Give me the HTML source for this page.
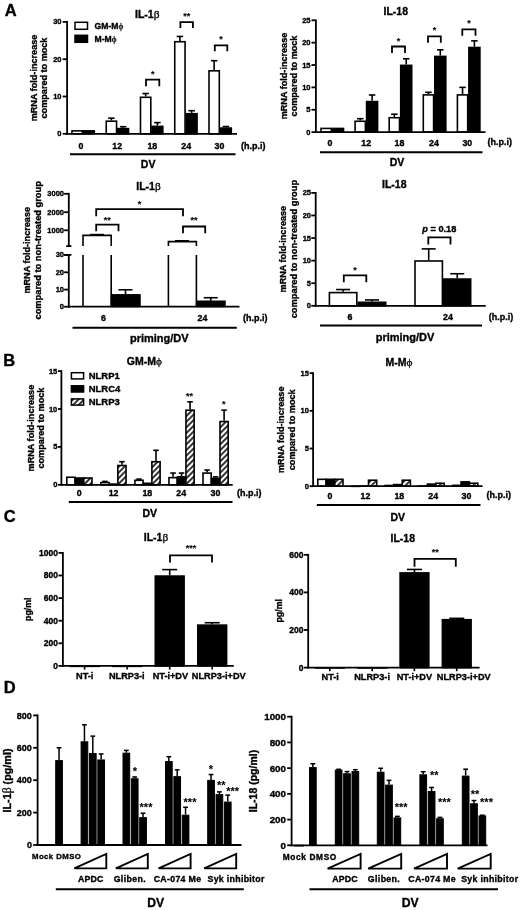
<!DOCTYPE html>
<html><head><meta charset="utf-8"><title>Figure</title>
<style>
html,body{margin:0;padding:0;background:#fff;}
svg{display:block;font-family:'Liberation Sans', sans-serif;fill:#000;}
text{stroke:#000;stroke-width:0.35px;stroke-linejoin:round;}
.st{stroke-width:0.1px;}
.g{font-family:'Liberation Serif',serif;font-weight:normal;stroke-width:0.3px;font-size:108%;}
</style></head>
<body>
<svg width="520" height="910" viewBox="0 0 520 910">
<defs>
<pattern id="hatch" patternUnits="userSpaceOnUse" width="4" height="4" patternTransform="rotate(-45)">
<rect width="4" height="4" fill="#fff"/>
<line x1="0" y1="2" x2="4" y2="2" stroke="#000" stroke-width="1.6"/>
</pattern>
</defs>
<rect x="0" y="0" width="520" height="910" fill="#fff"/>
<text x="10.80" y="16.28" font-size="16.5" font-weight="bold" text-anchor="middle">A</text>
<text x="147.20" y="18.11" font-size="10.5" font-weight="bold" text-anchor="middle">IL-1<tspan class="g">β</tspan></text>
<text x="33.70" y="81.13" font-size="9.1" font-weight="bold" text-anchor="middle" transform="rotate(-90 33.70 78.00)">mRNA fold-increase</text>
<text x="44.20" y="81.13" font-size="9.1" font-weight="bold" text-anchor="middle" transform="rotate(-90 44.20 78.00)">compared to mock</text>
<rect x="72.00" y="130.87" width="10.30" height="2.93" fill="#fff" stroke="#000" stroke-width="1.6"/>
<rect x="83.50" y="130.87" width="10.80" height="2.93" fill="#000" stroke="#000" stroke-width="1.6"/>
<text x="81.00" y="148.63" font-size="8.8" font-weight="bold" text-anchor="middle">0</text>
<line x1="111.40" y1="120.37" x2="111.40" y2="118.13" stroke="#000" stroke-width="1.6" stroke-linecap="butt"/>
<line x1="108.15" y1="118.13" x2="114.65" y2="118.13" stroke="#000" stroke-width="1.6" stroke-linecap="butt"/>
<rect x="106.25" y="121.17" width="10.30" height="12.63" fill="#fff" stroke="#000" stroke-width="1.6"/>
<line x1="123.15" y1="127.83" x2="123.15" y2="126.71" stroke="#000" stroke-width="1.6" stroke-linecap="butt"/>
<line x1="119.90" y1="126.71" x2="126.40" y2="126.71" stroke="#000" stroke-width="1.6" stroke-linecap="butt"/>
<rect x="117.75" y="128.63" width="10.80" height="5.17" fill="#000" stroke="#000" stroke-width="1.6"/>
<text x="117.20" y="148.63" font-size="8.8" font-weight="bold" text-anchor="middle">12</text>
<line x1="145.65" y1="96.50" x2="145.65" y2="93.52" stroke="#000" stroke-width="1.6" stroke-linecap="butt"/>
<line x1="142.40" y1="93.52" x2="148.90" y2="93.52" stroke="#000" stroke-width="1.6" stroke-linecap="butt"/>
<rect x="140.50" y="97.30" width="10.30" height="36.50" fill="#fff" stroke="#000" stroke-width="1.6"/>
<line x1="157.40" y1="125.59" x2="157.40" y2="122.61" stroke="#000" stroke-width="1.6" stroke-linecap="butt"/>
<line x1="154.15" y1="122.61" x2="160.65" y2="122.61" stroke="#000" stroke-width="1.6" stroke-linecap="butt"/>
<rect x="152.00" y="126.39" width="10.80" height="7.41" fill="#000" stroke="#000" stroke-width="1.6"/>
<text x="152.30" y="148.63" font-size="8.8" font-weight="bold" text-anchor="middle">18</text>
<line x1="179.90" y1="40.92" x2="179.90" y2="36.45" stroke="#000" stroke-width="1.6" stroke-linecap="butt"/>
<line x1="176.65" y1="36.45" x2="183.15" y2="36.45" stroke="#000" stroke-width="1.6" stroke-linecap="butt"/>
<rect x="174.75" y="41.72" width="10.30" height="92.08" fill="#fff" stroke="#000" stroke-width="1.6"/>
<line x1="191.65" y1="112.91" x2="191.65" y2="110.67" stroke="#000" stroke-width="1.6" stroke-linecap="butt"/>
<line x1="188.40" y1="110.67" x2="194.90" y2="110.67" stroke="#000" stroke-width="1.6" stroke-linecap="butt"/>
<rect x="186.25" y="113.71" width="10.80" height="20.09" fill="#000" stroke="#000" stroke-width="1.6"/>
<text x="186.20" y="148.63" font-size="8.8" font-weight="bold" text-anchor="middle">24</text>
<line x1="214.15" y1="70.02" x2="214.15" y2="60.69" stroke="#000" stroke-width="1.6" stroke-linecap="butt"/>
<line x1="210.90" y1="60.69" x2="217.40" y2="60.69" stroke="#000" stroke-width="1.6" stroke-linecap="butt"/>
<rect x="209.00" y="70.82" width="10.30" height="62.98" fill="#fff" stroke="#000" stroke-width="1.6"/>
<line x1="225.90" y1="127.27" x2="225.90" y2="126.53" stroke="#000" stroke-width="1.6" stroke-linecap="butt"/>
<line x1="222.65" y1="126.53" x2="229.15" y2="126.53" stroke="#000" stroke-width="1.6" stroke-linecap="butt"/>
<rect x="220.50" y="128.07" width="10.80" height="5.73" fill="#000" stroke="#000" stroke-width="1.6"/>
<text x="219.40" y="148.63" font-size="8.8" font-weight="bold" text-anchor="middle">30</text>
<line x1="67.10" y1="21.00" x2="67.10" y2="134.70" stroke="#000" stroke-width="1.8" stroke-linecap="butt"/>
<line x1="66.20" y1="133.80" x2="237.00" y2="133.80" stroke="#000" stroke-width="1.8" stroke-linecap="butt"/>
<line x1="62.70" y1="133.80" x2="67.10" y2="133.80" stroke="#000" stroke-width="1.8" stroke-linecap="butt"/>
<text x="61.50" y="136.38" font-size="7.5" font-weight="bold" text-anchor="end">0</text>
<line x1="62.70" y1="96.50" x2="67.10" y2="96.50" stroke="#000" stroke-width="1.8" stroke-linecap="butt"/>
<text x="61.50" y="99.08" font-size="7.5" font-weight="bold" text-anchor="end">10</text>
<line x1="62.70" y1="59.20" x2="67.10" y2="59.20" stroke="#000" stroke-width="1.8" stroke-linecap="butt"/>
<text x="61.50" y="61.78" font-size="7.5" font-weight="bold" text-anchor="end">20</text>
<line x1="62.70" y1="21.90" x2="67.10" y2="21.90" stroke="#000" stroke-width="1.8" stroke-linecap="butt"/>
<text x="61.50" y="24.48" font-size="7.5" font-weight="bold" text-anchor="end">30</text>
<text x="241.00" y="148.70" font-size="9.0" font-weight="bold" text-anchor="start">(h.p.i)</text>
<line x1="70.00" y1="154.30" x2="235.50" y2="154.30" stroke="#000" stroke-width="2.0" stroke-linecap="butt"/>
<text x="148.10" y="168.21" font-size="10.5" font-weight="bold" text-anchor="middle">DV</text>
<rect x="75.00" y="22.30" width="12.50" height="7.00" fill="#fff" stroke="#000" stroke-width="1.5"/>
<text x="94.50" y="28.96" font-size="8.6" font-weight="bold" text-anchor="start">GM-M<tspan class="g">ϕ</tspan></text>
<rect x="75.00" y="35.30" width="12.50" height="7.00" fill="#000" stroke="#000" stroke-width="1.5"/>
<text x="94.50" y="41.96" font-size="8.6" font-weight="bold" text-anchor="start">M-M<tspan class="g">ϕ</tspan></text>
<polyline points="146.00,86.30 146.00,79.70 159.30,79.70 159.30,86.30" fill="none" stroke="#000" stroke-width="1.8"/>
<text x="152.65" y="76.70" font-size="9" font-weight="bold" text-anchor="middle" class="st">*</text>
<polyline points="180.40,28.00 180.40,22.10 192.90,22.10 192.90,28.00" fill="none" stroke="#000" stroke-width="1.8"/>
<text x="186.65" y="18.70" font-size="9" font-weight="bold" text-anchor="middle" class="st">**</text>
<polyline points="214.80,51.30 214.80,45.40 227.30,45.40 227.30,51.30" fill="none" stroke="#000" stroke-width="1.8"/>
<text x="221.05" y="41.70" font-size="9" font-weight="bold" text-anchor="middle" class="st">*</text>
<text x="395.80" y="14.91" font-size="10.5" font-weight="bold" text-anchor="middle">IL-18</text>
<text x="283.40" y="79.13" font-size="9.1" font-weight="bold" text-anchor="middle" transform="rotate(-90 283.40 76.00)">mRNA fold-increase</text>
<text x="293.90" y="79.13" font-size="9.1" font-weight="bold" text-anchor="middle" transform="rotate(-90 293.90 76.00)">compared to mock</text>
<rect x="321.00" y="128.43" width="10.30" height="3.67" fill="#fff" stroke="#000" stroke-width="1.6"/>
<rect x="332.50" y="128.43" width="11.00" height="3.67" fill="#000" stroke="#000" stroke-width="1.6"/>
<text x="330.00" y="145.53" font-size="8.8" font-weight="bold" text-anchor="middle">0</text>
<line x1="360.25" y1="120.47" x2="360.25" y2="118.68" stroke="#000" stroke-width="1.6" stroke-linecap="butt"/>
<line x1="357.00" y1="118.68" x2="363.50" y2="118.68" stroke="#000" stroke-width="1.6" stroke-linecap="butt"/>
<rect x="355.10" y="121.27" width="10.30" height="10.83" fill="#fff" stroke="#000" stroke-width="1.6"/>
<line x1="372.10" y1="100.80" x2="372.10" y2="94.98" stroke="#000" stroke-width="1.6" stroke-linecap="butt"/>
<line x1="368.85" y1="94.98" x2="375.35" y2="94.98" stroke="#000" stroke-width="1.6" stroke-linecap="butt"/>
<rect x="366.60" y="101.60" width="11.00" height="30.50" fill="#000" stroke="#000" stroke-width="1.6"/>
<text x="366.20" y="145.53" font-size="8.8" font-weight="bold" text-anchor="middle">12</text>
<line x1="394.35" y1="116.90" x2="394.35" y2="114.21" stroke="#000" stroke-width="1.6" stroke-linecap="butt"/>
<line x1="391.10" y1="114.21" x2="397.60" y2="114.21" stroke="#000" stroke-width="1.6" stroke-linecap="butt"/>
<rect x="389.20" y="117.70" width="10.30" height="14.40" fill="#fff" stroke="#000" stroke-width="1.6"/>
<line x1="406.20" y1="64.57" x2="406.20" y2="58.76" stroke="#000" stroke-width="1.6" stroke-linecap="butt"/>
<line x1="402.95" y1="58.76" x2="409.45" y2="58.76" stroke="#000" stroke-width="1.6" stroke-linecap="butt"/>
<rect x="400.70" y="65.37" width="11.00" height="66.73" fill="#000" stroke="#000" stroke-width="1.6"/>
<text x="399.50" y="145.53" font-size="8.8" font-weight="bold" text-anchor="middle">18</text>
<line x1="428.45" y1="94.09" x2="428.45" y2="92.30" stroke="#000" stroke-width="1.6" stroke-linecap="butt"/>
<line x1="425.20" y1="92.30" x2="431.70" y2="92.30" stroke="#000" stroke-width="1.6" stroke-linecap="butt"/>
<rect x="423.30" y="94.89" width="10.30" height="37.21" fill="#fff" stroke="#000" stroke-width="1.6"/>
<line x1="440.30" y1="55.63" x2="440.30" y2="49.82" stroke="#000" stroke-width="1.6" stroke-linecap="butt"/>
<line x1="437.05" y1="49.82" x2="443.55" y2="49.82" stroke="#000" stroke-width="1.6" stroke-linecap="butt"/>
<rect x="434.80" y="56.43" width="11.00" height="75.67" fill="#000" stroke="#000" stroke-width="1.6"/>
<text x="434.00" y="145.53" font-size="8.8" font-weight="bold" text-anchor="middle">24</text>
<line x1="462.55" y1="94.09" x2="462.55" y2="87.38" stroke="#000" stroke-width="1.6" stroke-linecap="butt"/>
<line x1="459.30" y1="87.38" x2="465.80" y2="87.38" stroke="#000" stroke-width="1.6" stroke-linecap="butt"/>
<rect x="457.40" y="94.89" width="10.30" height="37.21" fill="#fff" stroke="#000" stroke-width="1.6"/>
<line x1="474.40" y1="46.68" x2="474.40" y2="40.87" stroke="#000" stroke-width="1.6" stroke-linecap="butt"/>
<line x1="471.15" y1="40.87" x2="477.65" y2="40.87" stroke="#000" stroke-width="1.6" stroke-linecap="butt"/>
<rect x="468.90" y="47.48" width="11.00" height="84.62" fill="#000" stroke="#000" stroke-width="1.6"/>
<text x="467.30" y="145.53" font-size="8.8" font-weight="bold" text-anchor="middle">30</text>
<line x1="315.90" y1="19.40" x2="315.90" y2="133.00" stroke="#000" stroke-width="1.8" stroke-linecap="butt"/>
<line x1="315.00" y1="132.10" x2="485.50" y2="132.10" stroke="#000" stroke-width="1.8" stroke-linecap="butt"/>
<line x1="311.50" y1="132.10" x2="315.90" y2="132.10" stroke="#000" stroke-width="1.8" stroke-linecap="butt"/>
<text x="310.50" y="134.68" font-size="7.5" font-weight="bold" text-anchor="end">0</text>
<line x1="311.50" y1="109.74" x2="315.90" y2="109.74" stroke="#000" stroke-width="1.8" stroke-linecap="butt"/>
<text x="310.50" y="112.32" font-size="7.5" font-weight="bold" text-anchor="end">5</text>
<line x1="311.50" y1="87.38" x2="315.90" y2="87.38" stroke="#000" stroke-width="1.8" stroke-linecap="butt"/>
<text x="310.50" y="89.96" font-size="7.5" font-weight="bold" text-anchor="end">10</text>
<line x1="311.50" y1="65.02" x2="315.90" y2="65.02" stroke="#000" stroke-width="1.8" stroke-linecap="butt"/>
<text x="310.50" y="67.60" font-size="7.5" font-weight="bold" text-anchor="end">15</text>
<line x1="311.50" y1="42.66" x2="315.90" y2="42.66" stroke="#000" stroke-width="1.8" stroke-linecap="butt"/>
<text x="310.50" y="45.24" font-size="7.5" font-weight="bold" text-anchor="end">20</text>
<line x1="311.50" y1="20.30" x2="315.90" y2="20.30" stroke="#000" stroke-width="1.8" stroke-linecap="butt"/>
<text x="310.50" y="22.88" font-size="7.5" font-weight="bold" text-anchor="end">25</text>
<text x="487.50" y="145.40" font-size="9.0" font-weight="bold" text-anchor="start">(h.p.i)</text>
<line x1="320.00" y1="152.20" x2="482.50" y2="152.20" stroke="#000" stroke-width="2.0" stroke-linecap="butt"/>
<text x="397.00" y="165.81" font-size="10.5" font-weight="bold" text-anchor="middle">DV</text>
<polyline points="392.00,53.00 392.00,46.50 405.00,46.50 405.00,53.00" fill="none" stroke="#000" stroke-width="1.8"/>
<text x="398.50" y="43.60" font-size="9" font-weight="bold" text-anchor="middle" class="st">*</text>
<polyline points="428.00,42.70 428.00,36.30 440.80,36.30 440.80,42.70" fill="none" stroke="#000" stroke-width="1.8"/>
<text x="434.40" y="33.10" font-size="9" font-weight="bold" text-anchor="middle" class="st">*</text>
<polyline points="462.30,35.70 462.30,29.30 475.50,29.30 475.50,35.70" fill="none" stroke="#000" stroke-width="1.8"/>
<text x="468.90" y="26.10" font-size="9" font-weight="bold" text-anchor="middle" class="st">*</text>
<text x="148.50" y="190.21" font-size="10.5" font-weight="bold" text-anchor="middle">IL-1<tspan class="g">β</tspan></text>
<text x="26.80" y="253.43" font-size="9.1" font-weight="bold" text-anchor="middle" transform="rotate(-90 26.80 250.30)">mRNA fold-increase</text>
<text x="38.00" y="253.50" font-size="9.3" font-weight="bold" text-anchor="middle" transform="rotate(-90 38.00 250.30)">compared to non-treated group</text>
<line x1="68.80" y1="192.90" x2="68.80" y2="246.10" stroke="#000" stroke-width="1.8" stroke-linecap="butt"/>
<line x1="68.80" y1="254.90" x2="68.80" y2="307.60" stroke="#000" stroke-width="1.8" stroke-linecap="butt"/>
<line x1="66.20" y1="246.10" x2="71.40" y2="246.10" stroke="#000" stroke-width="1.8" stroke-linecap="butt"/>
<line x1="64.10" y1="254.90" x2="71.40" y2="254.90" stroke="#000" stroke-width="1.8" stroke-linecap="butt"/>
<line x1="64.10" y1="193.80" x2="68.80" y2="193.80" stroke="#000" stroke-width="1.8" stroke-linecap="butt"/>
<text x="64.00" y="196.38" font-size="7.5" font-weight="bold" text-anchor="end">3000</text>
<line x1="64.10" y1="212.20" x2="68.80" y2="212.20" stroke="#000" stroke-width="1.8" stroke-linecap="butt"/>
<text x="64.00" y="214.78" font-size="7.5" font-weight="bold" text-anchor="end">2000</text>
<line x1="64.10" y1="230.30" x2="68.80" y2="230.30" stroke="#000" stroke-width="1.8" stroke-linecap="butt"/>
<text x="64.00" y="232.88" font-size="7.5" font-weight="bold" text-anchor="end">1000</text>
<line x1="64.10" y1="254.90" x2="68.80" y2="254.90" stroke="#000" stroke-width="1.8" stroke-linecap="butt"/>
<text x="64.00" y="257.48" font-size="7.5" font-weight="bold" text-anchor="end">30</text>
<line x1="64.10" y1="272.30" x2="68.80" y2="272.30" stroke="#000" stroke-width="1.8" stroke-linecap="butt"/>
<text x="64.00" y="274.88" font-size="7.5" font-weight="bold" text-anchor="end">20</text>
<line x1="64.10" y1="289.60" x2="68.80" y2="289.60" stroke="#000" stroke-width="1.8" stroke-linecap="butt"/>
<text x="64.00" y="292.18" font-size="7.5" font-weight="bold" text-anchor="end">10</text>
<line x1="64.10" y1="306.70" x2="68.80" y2="306.70" stroke="#000" stroke-width="1.8" stroke-linecap="butt"/>
<text x="64.00" y="309.28" font-size="7.5" font-weight="bold" text-anchor="end">0</text>
<line x1="67.90" y1="306.70" x2="239.50" y2="306.70" stroke="#000" stroke-width="1.8" stroke-linecap="butt"/>
<line x1="97.00" y1="235.40" x2="97.00" y2="234.60" stroke="#000" stroke-width="1.6" stroke-linecap="butt"/>
<line x1="90.00" y1="234.60" x2="104.00" y2="234.60" stroke="#000" stroke-width="1.6" stroke-linecap="butt"/>
<path d="M83 246.1V235.4H111.2V246.1M83 254.9V306.7M111.2 254.9V306.7" fill="none" stroke="#000" stroke-width="1.6"/>
<line x1="125.50" y1="294.61" x2="125.50" y2="289.78" stroke="#000" stroke-width="1.6" stroke-linecap="butt"/>
<line x1="118.50" y1="289.78" x2="132.50" y2="289.78" stroke="#000" stroke-width="1.6" stroke-linecap="butt"/>
<rect x="111.20" y="294.61" width="29.00" height="12.09" fill="#000" stroke="#000" stroke-width="1.0"/>
<line x1="182.00" y1="241.60" x2="182.00" y2="240.80" stroke="#000" stroke-width="1.6" stroke-linecap="butt"/>
<line x1="175.00" y1="240.80" x2="189.00" y2="240.80" stroke="#000" stroke-width="1.6" stroke-linecap="butt"/>
<path d="M168.4 246.1V241.6H196.4V246.1M168.4 254.9V306.7M196.4 254.9V306.7" fill="none" stroke="#000" stroke-width="1.6"/>
<line x1="210.75" y1="301.00" x2="210.75" y2="297.72" stroke="#000" stroke-width="1.6" stroke-linecap="butt"/>
<line x1="203.75" y1="297.72" x2="217.75" y2="297.72" stroke="#000" stroke-width="1.6" stroke-linecap="butt"/>
<rect x="196.40" y="301.00" width="28.80" height="5.70" fill="#000" stroke="#000" stroke-width="1.0"/>
<text x="103.50" y="321.03" font-size="8.8" font-weight="bold" text-anchor="middle">6</text>
<text x="202.50" y="321.03" font-size="8.8" font-weight="bold" text-anchor="middle">24</text>
<text x="243.00" y="320.60" font-size="9.0" font-weight="bold" text-anchor="start">(h.p.i)</text>
<line x1="72.50" y1="327.70" x2="236.80" y2="327.70" stroke="#000" stroke-width="2.0" stroke-linecap="butt"/>
<text x="159.30" y="341.98" font-size="11" font-weight="bold" text-anchor="middle">priming/DV</text>
<polyline points="96.20,216.20 96.20,209.20 183.00,209.20 183.00,216.20" fill="none" stroke="#000" stroke-width="1.8"/>
<text x="139.60" y="207.10" font-size="9" font-weight="bold" text-anchor="middle" class="st">*</text>
<polyline points="96.20,231.20 96.20,224.70 118.50,224.70 118.50,231.20" fill="none" stroke="#000" stroke-width="1.8"/>
<text x="107.35" y="223.10" font-size="9" font-weight="bold" text-anchor="middle" class="st">**</text>
<polyline points="183.00,233.20 183.00,226.50 205.20,226.50 205.20,233.20" fill="none" stroke="#000" stroke-width="1.8"/>
<text x="194.10" y="223.10" font-size="9" font-weight="bold" text-anchor="middle" class="st">**</text>
<text x="394.30" y="187.91" font-size="10.5" font-weight="bold" text-anchor="middle">IL-18</text>
<text x="282.60" y="252.23" font-size="9.1" font-weight="bold" text-anchor="middle" transform="rotate(-90 282.60 249.10)">mRNA fold-increase</text>
<text x="293.80" y="252.30" font-size="9.3" font-weight="bold" text-anchor="middle" transform="rotate(-90 293.80 249.10)">compared to non-treated group</text>
<line x1="343.10" y1="291.80" x2="343.10" y2="289.54" stroke="#000" stroke-width="1.6" stroke-linecap="butt"/>
<line x1="336.10" y1="289.54" x2="350.10" y2="289.54" stroke="#000" stroke-width="1.6" stroke-linecap="butt"/>
<rect x="329.40" y="292.60" width="27.40" height="13.20" fill="#fff" stroke="#000" stroke-width="1.6"/>
<line x1="372.00" y1="301.51" x2="372.00" y2="299.93" stroke="#000" stroke-width="1.6" stroke-linecap="butt"/>
<line x1="365.00" y1="299.93" x2="379.00" y2="299.93" stroke="#000" stroke-width="1.6" stroke-linecap="butt"/>
<rect x="358.30" y="302.31" width="27.40" height="3.49" fill="#000" stroke="#000" stroke-width="1.6"/>
<line x1="428.70" y1="260.19" x2="428.70" y2="248.90" stroke="#000" stroke-width="1.6" stroke-linecap="butt"/>
<line x1="421.70" y1="248.90" x2="435.70" y2="248.90" stroke="#000" stroke-width="1.6" stroke-linecap="butt"/>
<rect x="415.00" y="260.99" width="27.40" height="44.81" fill="#fff" stroke="#000" stroke-width="1.6"/>
<line x1="457.25" y1="278.25" x2="457.25" y2="273.74" stroke="#000" stroke-width="1.6" stroke-linecap="butt"/>
<line x1="450.25" y1="273.74" x2="464.25" y2="273.74" stroke="#000" stroke-width="1.6" stroke-linecap="butt"/>
<rect x="443.80" y="279.05" width="26.90" height="26.75" fill="#000" stroke="#000" stroke-width="1.6"/>
<line x1="315.70" y1="192.00" x2="315.70" y2="306.70" stroke="#000" stroke-width="1.8" stroke-linecap="butt"/>
<line x1="314.80" y1="305.80" x2="485.70" y2="305.80" stroke="#000" stroke-width="1.8" stroke-linecap="butt"/>
<line x1="311.30" y1="305.80" x2="315.70" y2="305.80" stroke="#000" stroke-width="1.8" stroke-linecap="butt"/>
<text x="311.00" y="308.38" font-size="7.5" font-weight="bold" text-anchor="end">0</text>
<line x1="311.30" y1="283.22" x2="315.70" y2="283.22" stroke="#000" stroke-width="1.8" stroke-linecap="butt"/>
<text x="311.00" y="285.80" font-size="7.5" font-weight="bold" text-anchor="end">5</text>
<line x1="311.30" y1="260.64" x2="315.70" y2="260.64" stroke="#000" stroke-width="1.8" stroke-linecap="butt"/>
<text x="311.00" y="263.22" font-size="7.5" font-weight="bold" text-anchor="end">10</text>
<line x1="311.30" y1="238.06" x2="315.70" y2="238.06" stroke="#000" stroke-width="1.8" stroke-linecap="butt"/>
<text x="311.00" y="240.64" font-size="7.5" font-weight="bold" text-anchor="end">15</text>
<line x1="311.30" y1="215.48" x2="315.70" y2="215.48" stroke="#000" stroke-width="1.8" stroke-linecap="butt"/>
<text x="311.00" y="218.06" font-size="7.5" font-weight="bold" text-anchor="end">20</text>
<line x1="311.30" y1="192.90" x2="315.70" y2="192.90" stroke="#000" stroke-width="1.8" stroke-linecap="butt"/>
<text x="311.00" y="195.48" font-size="7.5" font-weight="bold" text-anchor="end">25</text>
<text x="350.00" y="320.33" font-size="8.8" font-weight="bold" text-anchor="middle">6</text>
<text x="448.00" y="320.33" font-size="8.8" font-weight="bold" text-anchor="middle">24</text>
<text x="488.80" y="319.90" font-size="9.0" font-weight="bold" text-anchor="start">(h.p.i)</text>
<line x1="320.00" y1="325.50" x2="482.00" y2="325.50" stroke="#000" stroke-width="2.0" stroke-linecap="butt"/>
<text x="405.00" y="341.08" font-size="11" font-weight="bold" text-anchor="middle">priming/DV</text>
<polyline points="343.80,282.30 343.80,275.30 366.30,275.30 366.30,282.30" fill="none" stroke="#000" stroke-width="1.8"/>
<text x="355.05" y="273.10" font-size="9" font-weight="bold" text-anchor="middle" class="st">*</text>
<polyline points="428.30,244.50 428.30,237.40 450.50,237.40 450.50,244.50" fill="none" stroke="#000" stroke-width="1.8"/>
<text x="439.3" y="232.2" font-size="9.2" font-weight="bold" text-anchor="middle"><tspan font-style="italic">p</tspan> = 0.18</text>
<text x="9.30" y="366.48" font-size="16.5" font-weight="bold" text-anchor="middle">B</text>
<text x="144.40" y="365.41" font-size="10.5" font-weight="bold" text-anchor="middle">GM-M<tspan class="g">ϕ</tspan></text>
<text x="30.40" y="431.23" font-size="9.1" font-weight="bold" text-anchor="middle" transform="rotate(-90 30.40 428.10)">mRNA fold-increase</text>
<text x="41.10" y="431.23" font-size="9.1" font-weight="bold" text-anchor="middle" transform="rotate(-90 41.10 428.10)">compared to mock</text>
<rect x="66.80" y="477.26" width="8.20" height="7.54" fill="#fff" stroke="#000" stroke-width="1.6"/>
<rect x="75.30" y="478.02" width="8.20" height="6.78" fill="#000" stroke="#000" stroke-width="1.6"/>
<rect x="83.80" y="478.02" width="8.20" height="6.78" fill="url(#hatch)" stroke="#000" stroke-width="1.6"/>
<text x="79.30" y="495.83" font-size="8.8" font-weight="bold" text-anchor="middle">0</text>
<line x1="104.95" y1="481.77" x2="104.95" y2="481.39" stroke="#000" stroke-width="1.6" stroke-linecap="butt"/>
<line x1="102.20" y1="481.39" x2="107.70" y2="481.39" stroke="#000" stroke-width="1.6" stroke-linecap="butt"/>
<rect x="100.85" y="482.57" width="8.20" height="2.23" fill="#fff" stroke="#000" stroke-width="1.6"/>
<rect x="109.35" y="484.08" width="8.20" height="0.72" fill="#000" stroke="#000" stroke-width="1.6"/>
<line x1="121.95" y1="464.71" x2="121.95" y2="461.68" stroke="#000" stroke-width="1.6" stroke-linecap="butt"/>
<line x1="119.20" y1="461.68" x2="124.70" y2="461.68" stroke="#000" stroke-width="1.6" stroke-linecap="butt"/>
<rect x="117.85" y="465.51" width="8.20" height="19.29" fill="url(#hatch)" stroke="#000" stroke-width="1.6"/>
<text x="113.60" y="495.83" font-size="8.8" font-weight="bold" text-anchor="middle">12</text>
<line x1="139.00" y1="479.49" x2="139.00" y2="479.12" stroke="#000" stroke-width="1.6" stroke-linecap="butt"/>
<line x1="136.25" y1="479.12" x2="141.75" y2="479.12" stroke="#000" stroke-width="1.6" stroke-linecap="butt"/>
<rect x="134.90" y="480.29" width="8.20" height="4.51" fill="#fff" stroke="#000" stroke-width="1.6"/>
<rect x="143.40" y="483.33" width="8.20" height="1.47" fill="#000" stroke="#000" stroke-width="1.6"/>
<line x1="156.00" y1="460.92" x2="156.00" y2="450.31" stroke="#000" stroke-width="1.6" stroke-linecap="butt"/>
<line x1="153.25" y1="450.31" x2="158.75" y2="450.31" stroke="#000" stroke-width="1.6" stroke-linecap="butt"/>
<rect x="151.90" y="461.72" width="8.20" height="23.08" fill="url(#hatch)" stroke="#000" stroke-width="1.6"/>
<text x="147.30" y="495.83" font-size="8.8" font-weight="bold" text-anchor="middle">18</text>
<line x1="173.05" y1="476.84" x2="173.05" y2="473.05" stroke="#000" stroke-width="1.6" stroke-linecap="butt"/>
<line x1="170.30" y1="473.05" x2="175.80" y2="473.05" stroke="#000" stroke-width="1.6" stroke-linecap="butt"/>
<rect x="168.95" y="477.64" width="8.20" height="7.16" fill="#fff" stroke="#000" stroke-width="1.6"/>
<line x1="181.55" y1="476.08" x2="181.55" y2="473.05" stroke="#000" stroke-width="1.6" stroke-linecap="butt"/>
<line x1="178.80" y1="473.05" x2="184.30" y2="473.05" stroke="#000" stroke-width="1.6" stroke-linecap="butt"/>
<rect x="177.45" y="476.88" width="8.20" height="7.92" fill="#000" stroke="#000" stroke-width="1.6"/>
<line x1="190.05" y1="409.38" x2="190.05" y2="401.80" stroke="#000" stroke-width="1.6" stroke-linecap="butt"/>
<line x1="187.30" y1="401.80" x2="192.80" y2="401.80" stroke="#000" stroke-width="1.6" stroke-linecap="butt"/>
<rect x="185.95" y="410.18" width="8.20" height="74.62" fill="url(#hatch)" stroke="#000" stroke-width="1.6"/>
<text x="181.20" y="495.83" font-size="8.8" font-weight="bold" text-anchor="middle">24</text>
<line x1="207.10" y1="472.29" x2="207.10" y2="470.02" stroke="#000" stroke-width="1.6" stroke-linecap="butt"/>
<line x1="204.35" y1="470.02" x2="209.85" y2="470.02" stroke="#000" stroke-width="1.6" stroke-linecap="butt"/>
<rect x="203.00" y="473.09" width="8.20" height="11.71" fill="#fff" stroke="#000" stroke-width="1.6"/>
<line x1="215.60" y1="477.60" x2="215.60" y2="476.84" stroke="#000" stroke-width="1.6" stroke-linecap="butt"/>
<line x1="212.85" y1="476.84" x2="218.35" y2="476.84" stroke="#000" stroke-width="1.6" stroke-linecap="butt"/>
<rect x="211.50" y="478.40" width="8.20" height="6.40" fill="#000" stroke="#000" stroke-width="1.6"/>
<line x1="224.10" y1="420.75" x2="224.10" y2="410.14" stroke="#000" stroke-width="1.6" stroke-linecap="butt"/>
<line x1="221.35" y1="410.14" x2="226.85" y2="410.14" stroke="#000" stroke-width="1.6" stroke-linecap="butt"/>
<rect x="220.00" y="421.55" width="8.20" height="63.25" fill="url(#hatch)" stroke="#000" stroke-width="1.6"/>
<text x="215.40" y="495.83" font-size="8.8" font-weight="bold" text-anchor="middle">30</text>
<line x1="61.40" y1="370.20" x2="61.40" y2="485.70" stroke="#000" stroke-width="1.8" stroke-linecap="butt"/>
<line x1="60.50" y1="484.80" x2="232.70" y2="484.80" stroke="#000" stroke-width="1.8" stroke-linecap="butt"/>
<line x1="57.90" y1="484.80" x2="61.40" y2="484.80" stroke="#000" stroke-width="1.8" stroke-linecap="butt"/>
<text x="57.30" y="487.38" font-size="7.5" font-weight="bold" text-anchor="end">0</text>
<line x1="57.90" y1="446.90" x2="61.40" y2="446.90" stroke="#000" stroke-width="1.8" stroke-linecap="butt"/>
<text x="57.30" y="449.48" font-size="7.5" font-weight="bold" text-anchor="end">5</text>
<line x1="57.90" y1="409.00" x2="61.40" y2="409.00" stroke="#000" stroke-width="1.8" stroke-linecap="butt"/>
<text x="57.30" y="411.58" font-size="7.5" font-weight="bold" text-anchor="end">10</text>
<line x1="57.90" y1="371.10" x2="61.40" y2="371.10" stroke="#000" stroke-width="1.8" stroke-linecap="butt"/>
<text x="57.30" y="373.68" font-size="7.5" font-weight="bold" text-anchor="end">15</text>
<text x="237.00" y="496.10" font-size="9.0" font-weight="bold" text-anchor="start">(h.p.i)</text>
<line x1="68.80" y1="502.00" x2="232.50" y2="502.00" stroke="#000" stroke-width="2.0" stroke-linecap="butt"/>
<text x="149.80" y="516.81" font-size="10.5" font-weight="bold" text-anchor="middle">DV</text>
<rect x="71.40" y="372.70" width="12.20" height="6.20" fill="#fff" stroke="#000" stroke-width="1.5"/>
<text x="88.70" y="379.07" font-size="9.5" font-weight="bold" text-anchor="start">NLRP1</text>
<rect x="71.40" y="385.80" width="12.20" height="6.20" fill="#000" stroke="#000" stroke-width="1.5"/>
<text x="88.70" y="392.07" font-size="9.5" font-weight="bold" text-anchor="start">NLRC4</text>
<rect x="71.40" y="398.90" width="12.20" height="6.20" fill="url(#hatch)" stroke="#000" stroke-width="1.5"/>
<text x="88.70" y="405.27" font-size="9.5" font-weight="bold" text-anchor="start">NLRP3</text>
<text x="189.50" y="398.60" font-size="9" font-weight="bold" text-anchor="middle" class="st">**</text>
<text x="223.70" y="407.10" font-size="9" font-weight="bold" text-anchor="middle" class="st">*</text>
<text x="399.00" y="365.61" font-size="10.5" font-weight="bold" text-anchor="middle">M-M<tspan class="g">ϕ</tspan></text>
<text x="280.90" y="432.93" font-size="9.1" font-weight="bold" text-anchor="middle" transform="rotate(-90 280.90 429.80)">mRNA fold-increase</text>
<text x="291.40" y="432.93" font-size="9.1" font-weight="bold" text-anchor="middle" transform="rotate(-90 291.40 429.80)">compared to mock</text>
<rect x="317.80" y="479.31" width="8.20" height="6.89" fill="#fff" stroke="#000" stroke-width="1.6"/>
<rect x="326.30" y="479.31" width="8.20" height="6.89" fill="#000" stroke="#000" stroke-width="1.6"/>
<rect x="334.80" y="479.31" width="8.20" height="6.89" fill="url(#hatch)" stroke="#000" stroke-width="1.6"/>
<text x="330.00" y="498.83" font-size="8.8" font-weight="bold" text-anchor="middle">0</text>
<rect x="351.50" y="486.25" width="8.20" height="0.10" fill="#fff" stroke="#000" stroke-width="1.6"/>
<rect x="360.00" y="486.10" width="8.20" height="0.10" fill="#000" stroke="#000" stroke-width="1.6"/>
<rect x="368.50" y="480.21" width="8.20" height="5.99" fill="url(#hatch)" stroke="#000" stroke-width="1.6"/>
<text x="365.50" y="498.83" font-size="8.8" font-weight="bold" text-anchor="middle">12</text>
<rect x="385.20" y="485.49" width="8.20" height="0.71" fill="#fff" stroke="#000" stroke-width="1.6"/>
<rect x="393.70" y="484.59" width="8.20" height="1.61" fill="#000" stroke="#000" stroke-width="1.6"/>
<rect x="402.20" y="480.21" width="8.20" height="5.99" fill="url(#hatch)" stroke="#000" stroke-width="1.6"/>
<text x="399.30" y="498.83" font-size="8.8" font-weight="bold" text-anchor="middle">18</text>
<rect x="418.90" y="486.10" width="8.20" height="0.10" fill="#fff" stroke="#000" stroke-width="1.6"/>
<rect x="427.40" y="484.13" width="8.20" height="2.07" fill="#000" stroke="#000" stroke-width="1.6"/>
<rect x="435.90" y="483.23" width="8.20" height="2.97" fill="url(#hatch)" stroke="#000" stroke-width="1.6"/>
<text x="433.20" y="498.83" font-size="8.8" font-weight="bold" text-anchor="middle">24</text>
<rect x="452.60" y="485.34" width="8.20" height="0.86" fill="#fff" stroke="#000" stroke-width="1.6"/>
<rect x="461.10" y="481.87" width="8.20" height="4.33" fill="#000" stroke="#000" stroke-width="1.6"/>
<rect x="469.60" y="483.23" width="8.20" height="2.97" fill="url(#hatch)" stroke="#000" stroke-width="1.6"/>
<text x="466.50" y="498.83" font-size="8.8" font-weight="bold" text-anchor="middle">30</text>
<line x1="313.10" y1="372.20" x2="313.10" y2="487.10" stroke="#000" stroke-width="1.8" stroke-linecap="butt"/>
<line x1="312.20" y1="486.20" x2="482.50" y2="486.20" stroke="#000" stroke-width="1.8" stroke-linecap="butt"/>
<line x1="309.60" y1="486.20" x2="313.10" y2="486.20" stroke="#000" stroke-width="1.8" stroke-linecap="butt"/>
<text x="308.90" y="488.78" font-size="7.5" font-weight="bold" text-anchor="end">0</text>
<line x1="309.60" y1="448.50" x2="313.10" y2="448.50" stroke="#000" stroke-width="1.8" stroke-linecap="butt"/>
<text x="308.90" y="451.08" font-size="7.5" font-weight="bold" text-anchor="end">5</text>
<line x1="309.60" y1="410.80" x2="313.10" y2="410.80" stroke="#000" stroke-width="1.8" stroke-linecap="butt"/>
<text x="308.90" y="413.38" font-size="7.5" font-weight="bold" text-anchor="end">10</text>
<line x1="309.60" y1="373.10" x2="313.10" y2="373.10" stroke="#000" stroke-width="1.8" stroke-linecap="butt"/>
<text x="308.90" y="375.68" font-size="7.5" font-weight="bold" text-anchor="end">15</text>
<text x="486.50" y="498.10" font-size="9.0" font-weight="bold" text-anchor="start">(h.p.i)</text>
<line x1="316.80" y1="505.00" x2="480.50" y2="505.00" stroke="#000" stroke-width="2.0" stroke-linecap="butt"/>
<text x="397.80" y="521.41" font-size="10.5" font-weight="bold" text-anchor="middle">DV</text>
<text x="9.60" y="521.68" font-size="16.5" font-weight="bold" text-anchor="middle">C</text>
<text x="156.00" y="540.61" font-size="10.5" font-weight="bold" text-anchor="middle">IL-1<tspan class="g">β</tspan></text>
<text x="27.90" y="612.23" font-size="8.8" font-weight="bold" text-anchor="middle" transform="rotate(-90 27.90 609.20)">pg/ml</text>
<rect x="70.30" y="666.25" width="28.70" height="0.10" fill="#000" stroke="#000" stroke-width="1.6"/>
<rect x="112.80" y="666.25" width="28.70" height="0.10" fill="#000" stroke="#000" stroke-width="1.6"/>
<line x1="169.70" y1="575.27" x2="169.70" y2="569.62" stroke="#000" stroke-width="1.6" stroke-linecap="butt"/>
<line x1="162.20" y1="569.62" x2="177.20" y2="569.62" stroke="#000" stroke-width="1.6" stroke-linecap="butt"/>
<rect x="155.30" y="576.07" width="28.80" height="89.83" fill="#000" stroke="#000" stroke-width="1.6"/>
<line x1="212.20" y1="624.32" x2="212.20" y2="622.73" stroke="#000" stroke-width="1.6" stroke-linecap="butt"/>
<line x1="204.70" y1="622.73" x2="219.70" y2="622.73" stroke="#000" stroke-width="1.6" stroke-linecap="butt"/>
<rect x="197.80" y="625.12" width="28.80" height="40.78" fill="#000" stroke="#000" stroke-width="1.6"/>
<line x1="84.60" y1="665.90" x2="84.60" y2="669.60" stroke="#000" stroke-width="1.6" stroke-linecap="butt"/>
<line x1="127.10" y1="665.90" x2="127.10" y2="669.60" stroke="#000" stroke-width="1.6" stroke-linecap="butt"/>
<line x1="169.70" y1="665.90" x2="169.70" y2="669.60" stroke="#000" stroke-width="1.6" stroke-linecap="butt"/>
<line x1="212.20" y1="665.90" x2="212.20" y2="669.60" stroke="#000" stroke-width="1.6" stroke-linecap="butt"/>
<line x1="62.90" y1="552.00" x2="62.90" y2="666.80" stroke="#000" stroke-width="1.8" stroke-linecap="butt"/>
<line x1="62.00" y1="665.90" x2="233.80" y2="665.90" stroke="#000" stroke-width="1.8" stroke-linecap="butt"/>
<line x1="58.50" y1="665.90" x2="62.90" y2="665.90" stroke="#000" stroke-width="1.8" stroke-linecap="butt"/>
<text x="58.00" y="668.82" font-size="8.5" font-weight="bold" text-anchor="end">0</text>
<line x1="58.50" y1="643.30" x2="62.90" y2="643.30" stroke="#000" stroke-width="1.8" stroke-linecap="butt"/>
<text x="58.00" y="646.22" font-size="8.5" font-weight="bold" text-anchor="end">200</text>
<line x1="58.50" y1="620.70" x2="62.90" y2="620.70" stroke="#000" stroke-width="1.8" stroke-linecap="butt"/>
<text x="58.00" y="623.62" font-size="8.5" font-weight="bold" text-anchor="end">400</text>
<line x1="58.50" y1="598.10" x2="62.90" y2="598.10" stroke="#000" stroke-width="1.8" stroke-linecap="butt"/>
<text x="58.00" y="601.02" font-size="8.5" font-weight="bold" text-anchor="end">600</text>
<line x1="58.50" y1="575.50" x2="62.90" y2="575.50" stroke="#000" stroke-width="1.8" stroke-linecap="butt"/>
<text x="58.00" y="578.42" font-size="8.5" font-weight="bold" text-anchor="end">800</text>
<line x1="58.50" y1="552.90" x2="62.90" y2="552.90" stroke="#000" stroke-width="1.8" stroke-linecap="butt"/>
<text x="58.00" y="555.82" font-size="8.5" font-weight="bold" text-anchor="end">1000</text>
<text x="84.70" y="679.06" font-size="9.2" font-weight="bold" text-anchor="middle">NT-i</text>
<text x="126.80" y="679.06" font-size="9.2" font-weight="bold" text-anchor="middle">NLRP3-i</text>
<text x="170.40" y="679.06" font-size="9.2" font-weight="bold" text-anchor="middle">NT-i+DV</text>
<text x="218.80" y="679.06" font-size="9.2" font-weight="bold" text-anchor="middle">NLRP3-i+DV</text>
<polyline points="170.00,562.50 170.00,555.30 212.00,555.30 212.00,562.50" fill="none" stroke="#000" stroke-width="1.8"/>
<text x="191.00" y="551.10" font-size="9" font-weight="bold" text-anchor="middle" class="st">***</text>
<text x="402.80" y="541.91" font-size="10.5" font-weight="bold" text-anchor="middle">IL-18</text>
<text x="279.10" y="613.83" font-size="8.8" font-weight="bold" text-anchor="middle" transform="rotate(-90 279.10 610.80)">pg/ml</text>
<rect x="315.40" y="667.84" width="28.70" height="0.10" fill="#000" stroke="#000" stroke-width="1.6"/>
<rect x="357.80" y="667.84" width="28.70" height="0.10" fill="#000" stroke="#000" stroke-width="1.6"/>
<line x1="414.45" y1="572.10" x2="414.45" y2="569.46" stroke="#000" stroke-width="1.6" stroke-linecap="butt"/>
<line x1="406.95" y1="569.46" x2="421.95" y2="569.46" stroke="#000" stroke-width="1.6" stroke-linecap="butt"/>
<rect x="400.10" y="572.90" width="28.70" height="94.70" fill="#000" stroke="#000" stroke-width="1.6"/>
<line x1="456.75" y1="618.91" x2="456.75" y2="618.34" stroke="#000" stroke-width="1.6" stroke-linecap="butt"/>
<line x1="449.25" y1="618.34" x2="464.25" y2="618.34" stroke="#000" stroke-width="1.6" stroke-linecap="butt"/>
<rect x="442.40" y="619.71" width="28.70" height="47.89" fill="#000" stroke="#000" stroke-width="1.6"/>
<line x1="329.80" y1="667.60" x2="329.80" y2="671.20" stroke="#000" stroke-width="1.6" stroke-linecap="butt"/>
<line x1="372.20" y1="667.60" x2="372.20" y2="671.20" stroke="#000" stroke-width="1.6" stroke-linecap="butt"/>
<line x1="414.40" y1="667.60" x2="414.40" y2="671.20" stroke="#000" stroke-width="1.6" stroke-linecap="butt"/>
<line x1="456.70" y1="667.60" x2="456.70" y2="671.20" stroke="#000" stroke-width="1.6" stroke-linecap="butt"/>
<line x1="308.20" y1="553.90" x2="308.20" y2="668.50" stroke="#000" stroke-width="1.8" stroke-linecap="butt"/>
<line x1="307.30" y1="667.60" x2="479.60" y2="667.60" stroke="#000" stroke-width="1.8" stroke-linecap="butt"/>
<line x1="303.80" y1="667.60" x2="308.20" y2="667.60" stroke="#000" stroke-width="1.8" stroke-linecap="butt"/>
<text x="303.50" y="670.52" font-size="8.5" font-weight="bold" text-anchor="end">0</text>
<line x1="303.80" y1="630.00" x2="308.20" y2="630.00" stroke="#000" stroke-width="1.8" stroke-linecap="butt"/>
<text x="303.50" y="632.92" font-size="8.5" font-weight="bold" text-anchor="end">200</text>
<line x1="303.80" y1="592.40" x2="308.20" y2="592.40" stroke="#000" stroke-width="1.8" stroke-linecap="butt"/>
<text x="303.50" y="595.32" font-size="8.5" font-weight="bold" text-anchor="end">400</text>
<line x1="303.80" y1="554.80" x2="308.20" y2="554.80" stroke="#000" stroke-width="1.8" stroke-linecap="butt"/>
<text x="303.50" y="557.72" font-size="8.5" font-weight="bold" text-anchor="end">600</text>
<text x="330.20" y="680.36" font-size="9.2" font-weight="bold" text-anchor="middle">NT-i</text>
<text x="372.10" y="680.36" font-size="9.2" font-weight="bold" text-anchor="middle">NLRP3-i</text>
<text x="414.40" y="680.36" font-size="9.2" font-weight="bold" text-anchor="middle">NT-i+DV</text>
<text x="463.80" y="680.36" font-size="9.2" font-weight="bold" text-anchor="middle">NLRP3-i+DV</text>
<polyline points="414.50,566.80 414.50,558.80 455.80,558.80 455.80,566.80" fill="none" stroke="#000" stroke-width="1.8"/>
<text x="435.15" y="554.60" font-size="9" font-weight="bold" text-anchor="middle" class="st">**</text>
<text x="9.60" y="692.58" font-size="16.5" font-weight="bold" text-anchor="middle">D</text>
<text x="7.50" y="784.22" font-size="10.8" font-weight="bold" text-anchor="middle" transform="rotate(-90 7.50 780.50)">IL-1<tspan class="g">β</tspan> (pg/ml)</text>
<rect x="40.80" y="845.15" width="8.40" height="0.10" fill="#000" stroke="#000" stroke-width="1.6"/>
<line x1="59.05" y1="760.11" x2="59.05" y2="747.80" stroke="#000" stroke-width="1.5" stroke-linecap="butt"/>
<line x1="56.65" y1="747.80" x2="61.45" y2="747.80" stroke="#000" stroke-width="1.5" stroke-linecap="butt"/>
<rect x="55.70" y="760.61" width="6.70" height="84.39" fill="#000" stroke="#000" stroke-width="1.0"/>
<line x1="84.45" y1="741.32" x2="84.45" y2="724.80" stroke="#000" stroke-width="1.5" stroke-linecap="butt"/>
<line x1="82.05" y1="724.80" x2="86.85" y2="724.80" stroke="#000" stroke-width="1.5" stroke-linecap="butt"/>
<rect x="81.10" y="741.82" width="6.70" height="103.18" fill="#000" stroke="#000" stroke-width="1.0"/>
<line x1="92.80" y1="752.98" x2="92.80" y2="736.14" stroke="#000" stroke-width="1.5" stroke-linecap="butt"/>
<line x1="90.40" y1="736.14" x2="95.20" y2="736.14" stroke="#000" stroke-width="1.5" stroke-linecap="butt"/>
<rect x="89.45" y="753.48" width="6.70" height="91.52" fill="#000" stroke="#000" stroke-width="1.0"/>
<line x1="101.15" y1="759.46" x2="101.15" y2="753.96" stroke="#000" stroke-width="1.5" stroke-linecap="butt"/>
<line x1="98.75" y1="753.96" x2="103.55" y2="753.96" stroke="#000" stroke-width="1.5" stroke-linecap="butt"/>
<rect x="97.80" y="759.96" width="6.70" height="85.04" fill="#000" stroke="#000" stroke-width="1.0"/>
<line x1="126.35" y1="752.66" x2="126.35" y2="750.39" stroke="#000" stroke-width="1.5" stroke-linecap="butt"/>
<line x1="123.95" y1="750.39" x2="128.75" y2="750.39" stroke="#000" stroke-width="1.5" stroke-linecap="butt"/>
<rect x="123.00" y="753.16" width="6.70" height="91.84" fill="#000" stroke="#000" stroke-width="1.0"/>
<line x1="134.70" y1="778.26" x2="134.70" y2="776.96" stroke="#000" stroke-width="1.5" stroke-linecap="butt"/>
<line x1="132.30" y1="776.96" x2="137.10" y2="776.96" stroke="#000" stroke-width="1.5" stroke-linecap="butt"/>
<rect x="131.35" y="778.76" width="6.70" height="66.24" fill="#000" stroke="#000" stroke-width="1.0"/>
<line x1="143.05" y1="817.14" x2="143.05" y2="813.25" stroke="#000" stroke-width="1.5" stroke-linecap="butt"/>
<line x1="140.65" y1="813.25" x2="145.45" y2="813.25" stroke="#000" stroke-width="1.5" stroke-linecap="butt"/>
<rect x="139.70" y="817.64" width="6.70" height="27.36" fill="#000" stroke="#000" stroke-width="1.0"/>
<line x1="168.85" y1="761.08" x2="168.85" y2="756.71" stroke="#000" stroke-width="1.5" stroke-linecap="butt"/>
<line x1="166.45" y1="756.71" x2="171.25" y2="756.71" stroke="#000" stroke-width="1.5" stroke-linecap="butt"/>
<rect x="165.50" y="761.58" width="6.70" height="83.42" fill="#000" stroke="#000" stroke-width="1.0"/>
<line x1="177.20" y1="776.15" x2="177.20" y2="769.83" stroke="#000" stroke-width="1.5" stroke-linecap="butt"/>
<line x1="174.80" y1="769.83" x2="179.60" y2="769.83" stroke="#000" stroke-width="1.5" stroke-linecap="butt"/>
<rect x="173.85" y="776.65" width="6.70" height="68.35" fill="#000" stroke="#000" stroke-width="1.0"/>
<line x1="185.55" y1="814.71" x2="185.55" y2="807.25" stroke="#000" stroke-width="1.5" stroke-linecap="butt"/>
<line x1="183.15" y1="807.25" x2="187.95" y2="807.25" stroke="#000" stroke-width="1.5" stroke-linecap="butt"/>
<rect x="182.20" y="815.21" width="6.70" height="29.79" fill="#000" stroke="#000" stroke-width="1.0"/>
<line x1="211.05" y1="779.88" x2="211.05" y2="774.53" stroke="#000" stroke-width="1.5" stroke-linecap="butt"/>
<line x1="208.65" y1="774.53" x2="213.45" y2="774.53" stroke="#000" stroke-width="1.5" stroke-linecap="butt"/>
<rect x="207.70" y="780.38" width="6.70" height="64.62" fill="#000" stroke="#000" stroke-width="1.0"/>
<line x1="219.40" y1="794.13" x2="219.40" y2="791.86" stroke="#000" stroke-width="1.5" stroke-linecap="butt"/>
<line x1="217.00" y1="791.86" x2="221.80" y2="791.86" stroke="#000" stroke-width="1.5" stroke-linecap="butt"/>
<rect x="216.05" y="794.63" width="6.70" height="50.37" fill="#000" stroke="#000" stroke-width="1.0"/>
<line x1="227.75" y1="801.58" x2="227.75" y2="795.10" stroke="#000" stroke-width="1.5" stroke-linecap="butt"/>
<line x1="225.35" y1="795.10" x2="230.15" y2="795.10" stroke="#000" stroke-width="1.5" stroke-linecap="butt"/>
<rect x="224.40" y="802.08" width="6.70" height="42.92" fill="#000" stroke="#000" stroke-width="1.0"/>
<line x1="37.60" y1="714.50" x2="37.60" y2="845.90" stroke="#000" stroke-width="1.8" stroke-linecap="butt"/>
<line x1="36.70" y1="845.00" x2="241.50" y2="845.00" stroke="#000" stroke-width="1.8" stroke-linecap="butt"/>
<line x1="33.20" y1="845.00" x2="37.60" y2="845.00" stroke="#000" stroke-width="1.8" stroke-linecap="butt"/>
<text x="31.90" y="848.10" font-size="9.0" font-weight="bold" text-anchor="end">0</text>
<line x1="33.20" y1="812.60" x2="37.60" y2="812.60" stroke="#000" stroke-width="1.8" stroke-linecap="butt"/>
<text x="31.90" y="815.70" font-size="9.0" font-weight="bold" text-anchor="end">200</text>
<line x1="33.20" y1="780.20" x2="37.60" y2="780.20" stroke="#000" stroke-width="1.8" stroke-linecap="butt"/>
<text x="31.90" y="783.30" font-size="9.0" font-weight="bold" text-anchor="end">400</text>
<line x1="33.20" y1="747.80" x2="37.60" y2="747.80" stroke="#000" stroke-width="1.8" stroke-linecap="butt"/>
<text x="31.90" y="750.90" font-size="9.0" font-weight="bold" text-anchor="end">600</text>
<line x1="33.20" y1="715.40" x2="37.60" y2="715.40" stroke="#000" stroke-width="1.8" stroke-linecap="butt"/>
<text x="31.90" y="718.50" font-size="9.0" font-weight="bold" text-anchor="end">800</text>
<text x="32.00" y="859.38" font-size="7.8" font-weight="bold" text-anchor="start" letter-spacing="0.42">Mock DMSO</text>
<polygon points="74.30,868.40 106.30,868.40 106.30,853.90" fill="none" stroke="#000" stroke-width="1.9" stroke-linejoin="miter"/>
<polygon points="115.80,868.40 147.80,868.40 147.80,853.90" fill="none" stroke="#000" stroke-width="1.9" stroke-linejoin="miter"/>
<polygon points="158.60,868.40 190.60,868.40 190.60,853.90" fill="none" stroke="#000" stroke-width="1.9" stroke-linejoin="miter"/>
<polygon points="204.20,868.40 236.20,868.40 236.20,853.90" fill="none" stroke="#000" stroke-width="1.9" stroke-linejoin="miter"/>
<text x="90.80" y="882.33" font-size="8.8" font-weight="bold" text-anchor="middle" letter-spacing="0.2">APDC</text>
<text x="129.80" y="882.33" font-size="8.8" font-weight="bold" text-anchor="middle" letter-spacing="0.35">Gliben.</text>
<text x="177.50" y="882.33" font-size="8.8" font-weight="bold" text-anchor="middle" letter-spacing="0.3">CA-074 Me</text>
<text x="207.50" y="882.33" font-size="8.8" font-weight="bold" text-anchor="start" letter-spacing="0.3">Syk inhibitor</text>
<line x1="55.80" y1="889.20" x2="243.80" y2="889.20" stroke="#000" stroke-width="2.0" stroke-linecap="butt"/>
<text x="155.60" y="907.00" font-size="12.2" font-weight="bold" text-anchor="middle">DV</text>
<text x="134.80" y="775.48" font-size="11" font-weight="bold" text-anchor="middle" class="st">*</text>
<text x="146.00" y="811.48" font-size="11" font-weight="bold" text-anchor="middle" class="st">***</text>
<text x="190.00" y="806.48" font-size="11" font-weight="bold" text-anchor="middle" class="st">***</text>
<text x="211.00" y="772.98" font-size="11" font-weight="bold" text-anchor="middle" class="st">*</text>
<text x="221.30" y="789.48" font-size="11" font-weight="bold" text-anchor="middle" class="st">**</text>
<text x="232.60" y="795.48" font-size="11" font-weight="bold" text-anchor="middle" class="st">***</text>
<text x="253.20" y="784.61" font-size="10.5" font-weight="bold" text-anchor="middle" transform="rotate(-90 253.20 781.00)">IL-18 (pg/ml)</text>
<rect x="294.80" y="845.59" width="8.40" height="0.10" fill="#000" stroke="#000" stroke-width="1.6"/>
<line x1="312.85" y1="767.11" x2="312.85" y2="763.77" stroke="#000" stroke-width="1.5" stroke-linecap="butt"/>
<line x1="310.45" y1="763.77" x2="315.25" y2="763.77" stroke="#000" stroke-width="1.5" stroke-linecap="butt"/>
<rect x="309.50" y="767.61" width="6.70" height="77.69" fill="#000" stroke="#000" stroke-width="1.0"/>
<line x1="338.65" y1="769.68" x2="338.65" y2="769.30" stroke="#000" stroke-width="1.5" stroke-linecap="butt"/>
<line x1="336.25" y1="769.30" x2="341.05" y2="769.30" stroke="#000" stroke-width="1.5" stroke-linecap="butt"/>
<rect x="335.30" y="770.18" width="6.70" height="75.12" fill="#000" stroke="#000" stroke-width="1.0"/>
<line x1="347.00" y1="773.28" x2="347.00" y2="771.61" stroke="#000" stroke-width="1.5" stroke-linecap="butt"/>
<line x1="344.60" y1="771.61" x2="349.40" y2="771.61" stroke="#000" stroke-width="1.5" stroke-linecap="butt"/>
<rect x="343.65" y="773.78" width="6.70" height="71.52" fill="#000" stroke="#000" stroke-width="1.0"/>
<line x1="355.35" y1="771.10" x2="355.35" y2="769.68" stroke="#000" stroke-width="1.5" stroke-linecap="butt"/>
<line x1="352.95" y1="769.68" x2="357.75" y2="769.68" stroke="#000" stroke-width="1.5" stroke-linecap="butt"/>
<rect x="352.00" y="771.60" width="6.70" height="73.70" fill="#000" stroke="#000" stroke-width="1.0"/>
<line x1="380.65" y1="771.74" x2="380.65" y2="768.27" stroke="#000" stroke-width="1.5" stroke-linecap="butt"/>
<line x1="378.25" y1="768.27" x2="383.05" y2="768.27" stroke="#000" stroke-width="1.5" stroke-linecap="butt"/>
<rect x="377.30" y="772.24" width="6.70" height="73.06" fill="#000" stroke="#000" stroke-width="1.0"/>
<line x1="389.00" y1="784.60" x2="389.00" y2="780.36" stroke="#000" stroke-width="1.5" stroke-linecap="butt"/>
<line x1="386.60" y1="780.36" x2="391.40" y2="780.36" stroke="#000" stroke-width="1.5" stroke-linecap="butt"/>
<rect x="385.65" y="785.10" width="6.70" height="60.20" fill="#000" stroke="#000" stroke-width="1.0"/>
<line x1="397.35" y1="817.39" x2="397.35" y2="816.37" stroke="#000" stroke-width="1.5" stroke-linecap="butt"/>
<line x1="394.95" y1="816.37" x2="399.75" y2="816.37" stroke="#000" stroke-width="1.5" stroke-linecap="butt"/>
<rect x="394.00" y="817.89" width="6.70" height="27.41" fill="#000" stroke="#000" stroke-width="1.0"/>
<line x1="423.25" y1="774.31" x2="423.25" y2="771.74" stroke="#000" stroke-width="1.5" stroke-linecap="butt"/>
<line x1="420.85" y1="771.74" x2="425.65" y2="771.74" stroke="#000" stroke-width="1.5" stroke-linecap="butt"/>
<rect x="419.90" y="774.81" width="6.70" height="70.49" fill="#000" stroke="#000" stroke-width="1.0"/>
<line x1="431.60" y1="791.03" x2="431.60" y2="787.43" stroke="#000" stroke-width="1.5" stroke-linecap="butt"/>
<line x1="429.20" y1="787.43" x2="434.00" y2="787.43" stroke="#000" stroke-width="1.5" stroke-linecap="butt"/>
<rect x="428.25" y="791.53" width="6.70" height="53.77" fill="#000" stroke="#000" stroke-width="1.0"/>
<line x1="439.95" y1="818.29" x2="439.95" y2="817.39" stroke="#000" stroke-width="1.5" stroke-linecap="butt"/>
<line x1="437.55" y1="817.39" x2="442.35" y2="817.39" stroke="#000" stroke-width="1.5" stroke-linecap="butt"/>
<rect x="436.60" y="818.79" width="6.70" height="26.51" fill="#000" stroke="#000" stroke-width="1.0"/>
<line x1="465.65" y1="775.60" x2="465.65" y2="769.17" stroke="#000" stroke-width="1.5" stroke-linecap="butt"/>
<line x1="463.25" y1="769.17" x2="468.05" y2="769.17" stroke="#000" stroke-width="1.5" stroke-linecap="butt"/>
<rect x="462.30" y="776.10" width="6.70" height="69.20" fill="#000" stroke="#000" stroke-width="1.0"/>
<line x1="474.00" y1="803.25" x2="474.00" y2="800.55" stroke="#000" stroke-width="1.5" stroke-linecap="butt"/>
<line x1="471.60" y1="800.55" x2="476.40" y2="800.55" stroke="#000" stroke-width="1.5" stroke-linecap="butt"/>
<rect x="470.65" y="803.75" width="6.70" height="41.55" fill="#000" stroke="#000" stroke-width="1.0"/>
<line x1="482.35" y1="815.46" x2="482.35" y2="815.21" stroke="#000" stroke-width="1.5" stroke-linecap="butt"/>
<line x1="479.95" y1="815.21" x2="484.75" y2="815.21" stroke="#000" stroke-width="1.5" stroke-linecap="butt"/>
<rect x="479.00" y="815.96" width="6.70" height="29.34" fill="#000" stroke="#000" stroke-width="1.0"/>
<line x1="291.60" y1="715.80" x2="291.60" y2="846.20" stroke="#000" stroke-width="1.8" stroke-linecap="butt"/>
<line x1="290.70" y1="845.30" x2="487.50" y2="845.30" stroke="#000" stroke-width="1.8" stroke-linecap="butt"/>
<line x1="287.20" y1="845.30" x2="291.60" y2="845.30" stroke="#000" stroke-width="1.8" stroke-linecap="butt"/>
<text x="286.00" y="848.67" font-size="9.8" font-weight="bold" text-anchor="end">0</text>
<line x1="287.20" y1="819.58" x2="291.60" y2="819.58" stroke="#000" stroke-width="1.8" stroke-linecap="butt"/>
<text x="286.00" y="822.95" font-size="9.8" font-weight="bold" text-anchor="end">200</text>
<line x1="287.20" y1="793.86" x2="291.60" y2="793.86" stroke="#000" stroke-width="1.8" stroke-linecap="butt"/>
<text x="286.00" y="797.23" font-size="9.8" font-weight="bold" text-anchor="end">400</text>
<line x1="287.20" y1="768.14" x2="291.60" y2="768.14" stroke="#000" stroke-width="1.8" stroke-linecap="butt"/>
<text x="286.00" y="771.51" font-size="9.8" font-weight="bold" text-anchor="end">600</text>
<line x1="287.20" y1="742.42" x2="291.60" y2="742.42" stroke="#000" stroke-width="1.8" stroke-linecap="butt"/>
<text x="286.00" y="745.79" font-size="9.8" font-weight="bold" text-anchor="end">800</text>
<line x1="287.20" y1="716.70" x2="291.60" y2="716.70" stroke="#000" stroke-width="1.8" stroke-linecap="butt"/>
<text x="286.00" y="720.07" font-size="9.8" font-weight="bold" text-anchor="end">1000</text>
<text x="282.70" y="859.56" font-size="8.3" font-weight="bold" text-anchor="start" letter-spacing="0.65">Mock DMSO</text>
<polygon points="327.60,868.60 360.60,868.60 360.60,853.90" fill="none" stroke="#000" stroke-width="1.9" stroke-linejoin="miter"/>
<polygon points="368.20,868.60 401.20,868.60 401.20,853.90" fill="none" stroke="#000" stroke-width="1.9" stroke-linejoin="miter"/>
<polygon points="414.00,868.60 447.00,868.60 447.00,853.90" fill="none" stroke="#000" stroke-width="1.9" stroke-linejoin="miter"/>
<polygon points="457.70,868.60 490.70,868.60 490.70,853.90" fill="none" stroke="#000" stroke-width="1.9" stroke-linejoin="miter"/>
<text x="345.00" y="882.33" font-size="8.8" font-weight="bold" text-anchor="middle" letter-spacing="0.2">APDC</text>
<text x="384.00" y="882.33" font-size="8.8" font-weight="bold" text-anchor="middle" letter-spacing="0.35">Gliben.</text>
<text x="432.10" y="882.33" font-size="8.8" font-weight="bold" text-anchor="middle" letter-spacing="0.3">CA-074 Me</text>
<text x="489.80" y="882.33" font-size="8.8" font-weight="bold" text-anchor="middle" letter-spacing="0.3">Syk inhibitor</text>
<line x1="309.50" y1="889.30" x2="498.00" y2="889.30" stroke="#000" stroke-width="2.0" stroke-linecap="butt"/>
<text x="410.10" y="906.80" font-size="12.2" font-weight="bold" text-anchor="middle">DV</text>
<text x="401.20" y="811.48" font-size="11" font-weight="bold" text-anchor="middle" class="st">***</text>
<text x="434.20" y="779.48" font-size="11" font-weight="bold" text-anchor="middle" class="st">**</text>
<text x="444.40" y="806.48" font-size="11" font-weight="bold" text-anchor="middle" class="st">***</text>
<text x="475.00" y="797.98" font-size="11" font-weight="bold" text-anchor="middle" class="st">**</text>
<text x="486.50" y="806.48" font-size="11" font-weight="bold" text-anchor="middle" class="st">***</text>
</svg>
</body></html>
